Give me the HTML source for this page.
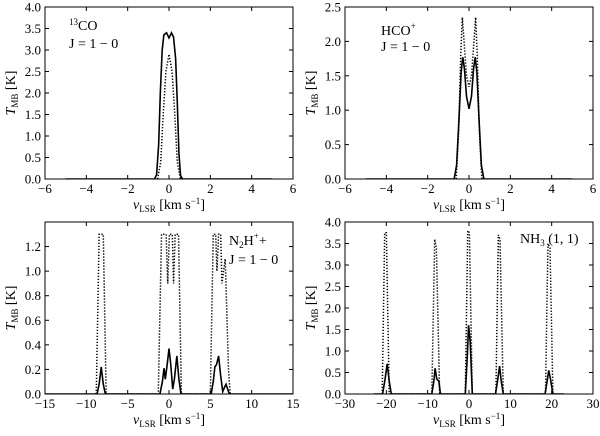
<!DOCTYPE html>
<html><head><meta charset="utf-8"><style>
body{margin:0;background:#fff}
svg text{font-family:"Liberation Serif","DejaVu Serif",serif;fill:#000}
</style></head><body>
<svg id="c" width="600" height="431" xmlns="http://www.w3.org/2000/svg"></svg>
<script>
// Panel 1: 13CO
const co_solid=[[-5,0],[-0.7,0],[-0.6,0.1],[-0.5,0.8],[-0.42,2.0],[-0.33,3.0],[-0.25,3.35],[-0.12,3.4],[0,3.28],[0.12,3.4],[0.22,3.3],[0.32,2.8],[0.4,1.8],[0.48,0.6],[0.56,0.08],[0.65,0],[5,0]];
const co_dot=[[-0.55,0],[-0.4,0.4],[-0.28,1.5],[-0.15,2.5],[0,2.9],[0.15,2.5],[0.28,1.5],[0.4,0.4],[0.55,0]];
// Panel 2: HCO+
const hco_solid=[[-5,0],[-0.72,0],[-0.6,0.2],[-0.48,0.9],[-0.38,1.55],[-0.3,1.77],[-0.22,1.6],[-0.12,1.2],[0,1.02],[0.12,1.2],[0.22,1.6],[0.3,1.77],[0.38,1.55],[0.48,0.9],[0.6,0.2],[0.72,0],[5,0]];
const hco_dot=[[-0.62,0],[-0.5,0.7],[-0.4,1.8],[-0.32,2.35],[-0.24,2.0],[-0.12,1.5],[0,1.34],[0.12,1.5],[0.24,2.0],[0.32,2.35],[0.4,1.8],[0.5,0.7],[0.62,0]];
// Panel 3: N2H+
const n2h_solid=[[-15,0],[-8.7,0],[-8.45,0.08],[-8.2,0.22],[-7.95,0.08],[-7.7,0],[-1.1,0],[-0.8,0.1],[-0.6,0.21],[-0.45,0.12],[-0.2,0.25],[0,0.37],[0.2,0.25],[0.45,0.04],[0.65,0.12],[0.95,0.31],[1.2,0.12],[1.45,0],[5.1,0],[5.35,0.1],[5.55,0.22],[5.75,0.24],[6.0,0.31],[6.25,0.15],[6.5,0.02],[6.75,0.06],[6.9,0.08],[7.1,0.04],[7.3,0],[15,0]];
const n2h_dot=[[-8.8,0],[-8.45,1.3],[-7.95,1.3],[-7.6,0],[-1.3,0],[-0.9,1.3],[-0.35,1.3],[-0.15,0.9],[0.05,1.3],[0.4,1.3],[0.55,0.9],[0.75,1.3],[1.15,1.3],[1.5,0],[5.0,0],[5.35,1.3],[5.65,1.3],[5.8,1.0],[6.0,1.3],[6.25,1.3],[6.4,0.9],[6.8,1.1],[7.2,0.2],[7.4,0]];
// Panel 4: NH3 (1,1)
const nh3_solid=[[-23,0],[-20.9,0],[-20.3,0.35],[-19.8,0.7],[-19.3,0.3],[-18.8,0],[-9.0,0],[-8.5,0.3],[-8.2,0.6],[-7.8,0.35],[-7.3,0.3],[-6.9,0],[-0.9,0],[-0.4,0.9],[-0.1,1.6],[0.3,1.2],[0.8,0],[6.4,0],[6.9,0.3],[7.4,0.65],[7.8,0.3],[8.3,0],[18.4,0],[18.9,0.3],[19.3,0.55],[19.8,0.3],[20.3,0],[23,0]];
const nh3_dot=[[-21,0],[-20.4,3.75],[-20.0,3.75],[-19.3,0],[-9.0,0],[-8.3,3.6],[-7.9,3.4],[-7.1,0],[-0.9,0],[-0.3,3.8],[0.1,3.75],[0.8,0],[6.5,0],[7.1,3.7],[7.5,3.6],[8.3,0],[18.5,0],[19.1,3.5],[19.6,3.4],[20.3,0]];

const xt1=[-6,-4,-2,0,2,4,6], yt1=[0,0.5,1,1.5,2,2.5,3,3.5,4];
const yt2=[0,0.5,1,1.5,2,2.5];
const xt3=[-15,-10,-5,0,5,10,15], yt3=[0,0.2,0.4,0.6,0.8,1.0,1.2];
const xt4=[-30,-20,-10,0,10,20,30];

const svg=document.getElementById('c');
const NS='http://www.w3.org/2000/svg';
function mk(tag,at,parent){const e=document.createElementNS(NS,tag);for(const k in at)e.setAttribute(k,at[k]);(parent||svg).appendChild(e);return e;}

function panel(id,L,T,R,B,xmin,xmax,ymin,ymax,xt,yt,ydec,solid,dot,label){
  const g=mk('g',{});
  
  
  const sx=v=>L+(v-xmin)/(xmax-xmin)*(R-L);
  const sy=v=>B-(v-ymin)/(ymax-ymin)*(B-T);
  const fr=mk('rect',{x:L,y:T,width:R-L,height:B-T,fill:'none',stroke:'#000','stroke-width':1},g);
  
  
  xt.forEach(v=>{
    const x=sx(v);
    mk('line',{x1:x,y1:B,x2:x,y2:B-4,stroke:'#000'},g);
    mk('line',{x1:x,y1:T,x2:x,y2:T+4,stroke:'#000'},g);
    const t=mk('text',{x:x,y:B+14,'font-size':13,'text-anchor':'middle'},g);
    t.textContent=(v<0?'\u2212'+(-v):String(v));
    
    
  });
  yt.forEach(v=>{
    const y=sy(v);
    mk('line',{x1:L,y1:y,x2:L+4,y2:y,stroke:'#000'},g);
    mk('line',{x1:R,y1:y,x2:R-4,y2:y,stroke:'#000'},g);
    const t=mk('text',{x:L-4,y:y+4.5,'font-size':13,'text-anchor':'end'},g);
    t.textContent=v.toFixed(ydec);
    
    
  });
  const clip='clip-'+id;
  const cp=mk('clipPath',{id:clip},g); mk('rect',{x:L,y:T,width:R-L,height:B-T},cp);
  const pd=mk('polyline',{points:dot.map(p=>sx(p[0])+','+sy(p[1])).join(' '),fill:'none',stroke:'#000','stroke-width':1.5,'stroke-dasharray':'1.3,1.7','clip-path':'url(#'+clip+')'},g);
  
  
  const ps=mk('polyline',{points:solid.map(p=>sx(p[0])+','+sy(p[1])).join(' '),fill:'none',stroke:'#000','stroke-width':1.6,'clip-path':'url(#'+clip+')'},g);
  
  
  const yl=mk('text',{transform:`translate(${L-30},${(T+B)/2}) rotate(-90)`,'font-size':14,'text-anchor':'middle'},g);
  yl.innerHTML='<tspan font-style="italic">T</tspan><tspan font-size="9" dy="3">MB</tspan><tspan dy="-3"> [K]</tspan>';
  
  
  const xl=mk('text',{x:(L+R)/2,y:B+30,'font-size':14,'text-anchor':'middle'},g);
  xl.innerHTML='<tspan font-style="italic">v</tspan><tspan font-size="9" dy="3">LSR</tspan><tspan dy="-3"> [km s</tspan><tspan font-size="9" dy="-5">\u22121</tspan><tspan dy="5">]</tspan>';
  
  
  const lg=mk('text',{x:label.x,y:label.y,'font-size':14},g);
  lg.innerHTML=label.html;
  
  
}
panel('panel-13co',45,7,293,179,-6,6,0,4,xt1,yt1,1,co_solid,co_dot,{x:69,y:30,html:'<tspan font-size="9" dy="-5">13</tspan><tspan dy="5">CO</tspan><tspan x="69" dy="18">J = 1 \u2212 0</tspan>'});
panel('panel-hco',345,7,593,179,-6,6,0,2.5,xt1,yt2,1,hco_solid,hco_dot,{x:381,y:35,html:'HCO<tspan font-size="9" dy="-6">+</tspan><tspan x="381" dy="22">J = 1 \u2212 0</tspan>'});
panel('panel-n2h',45,222,293,394,-15,15,0,1.4,xt3,yt3,1,n2h_solid,n2h_dot,{x:229,y:245,html:'N<tspan font-size="9" dy="3">2</tspan><tspan dy="-3">H</tspan><tspan font-size="9" dy="-6">+</tspan><tspan dy="6">+</tspan><tspan x="229" dy="19">J = 1 \u2212 0</tspan>'});
panel('panel-nh3',345,222,593,394,-30,30,0,4,xt4,yt1,1,nh3_solid,nh3_dot,{x:520,y:243,html:'NH<tspan font-size="9" dy="3">3</tspan><tspan dy="-3"> (1, 1)</tspan>'});
</script>
</body></html>
